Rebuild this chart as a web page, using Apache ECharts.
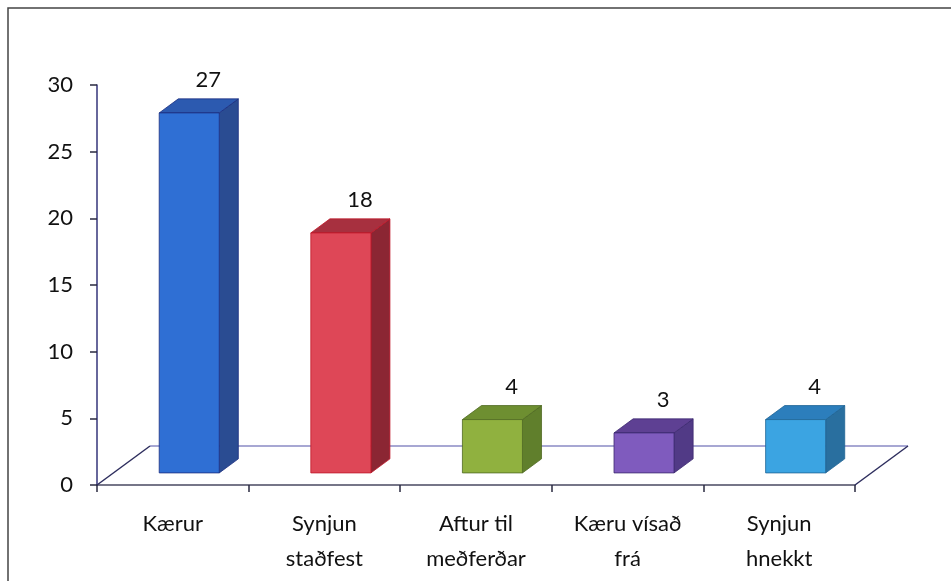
<!DOCTYPE html>
<html>
<head>
<meta charset="utf-8">
<script src="https://cdn.jsdelivr.net/npm/echarts@6/dist/echarts.min.js"></script>
<style>
  html, body { margin: 0; padding: 0; background: #fff; }
  #main { width: 951px; height: 581px; }
</style>
</head>
<body>
<div id="main"></div>
<script>
var chart = echarts.init(document.getElementById('main'))

var categories = ['Kærur', 'Synjun\nstaðfest', 'Aftur til\nmeðferðar', 'Kæru vísað\nfrá', 'Synjun\nhnekkt']
var values = [27, 18, 4, 3, 4]
var yTicks = [0, 30, 5] // min, max, interval

// front / side / top colours per bar
var frontColors = ['#2f6fd4', '#de4757', '#90b13f', '#7f5bbe', '#3ba4e2']
var sideColors = ['#2a4c92', '#8b2633', '#607f2c', '#513a86', '#296f9f']
var topColors = ['#2c5ab0', '#a7303f', '#6e8f31', '#5e4093', '#2c7ebc']
var edgeColors = ['#1c2e80', '#c0182a', '#4f6a22', '#3c2a70', '#1f6496']

// fake depth of the floor (screen px)
var DX = 53, DY = -39
var D1 = 0.31, D2 = 0.67

function renderFloor(params, api) {
    var cs = params.coordSys
    var l = cs.x, r = cs.x + cs.width, b = cs.y + cs.height
    return {
        type: 'group',
        children: [
            { type: 'line', shape: { x1: l + DX, y1: b + DY, x2: r + DX, y2: b + DY },
              style: { stroke: '#8a8ac4', lineWidth: 1.5 } },
            { type: 'line', shape: { x1: l, y1: b, x2: l + DX, y2: b + DY },
              style: { stroke: '#2e2e5e', lineWidth: 1.5 } },
            { type: 'line', shape: { x1: r, y1: b, x2: r + DX, y2: b + DY },
              style: { stroke: '#2e2e5e', lineWidth: 1.5 } }
        ]
    }
}

function renderBar(params, api) {
    var i = api.value(0)
    var v = api.value(1)
    var base = api.coord([i, 0])
    var top = api.coord([i, v])
    var bw = api.size([1, 0])[0]
    var h = bw * 0.198
    var cx = base[0]
    function P(xo, y, d) { return [cx + xo + d * DX, y + d * DY] }
    var yb = base[1], yt = top[1]
    var lab = P(0, yt, D2)
    return {
        type: 'group',
        children: [
            { type: 'polygon', shape: { points: [P(h, yb, D1), P(h, yb, D2), P(h, yt, D2), P(h, yt, D1)] },
              style: { fill: sideColors[i], stroke: edgeColors[i], lineWidth: 0.8 } },
            { type: 'polygon', shape: { points: [P(-h, yt, D1), P(h, yt, D1), P(h, yt, D2), P(-h, yt, D2)] },
              style: { fill: topColors[i], stroke: edgeColors[i], lineWidth: 0.8 } },
            { type: 'polygon', shape: { points: [P(-h, yb, D1), P(h, yb, D1), P(h, yt, D1), P(-h, yt, D1)] },
              style: { fill: frontColors[i], stroke: edgeColors[i], lineWidth: 0.8 } },
            { type: 'text', x: lab[0], y: lab[1] - 19,
              style: { text: String(v), fill: '#111', font: '22px Lato', align: 'center', verticalAlign: 'middle' } }
        ]
    }
}

var barData = values.map(function (v, i) { return [i, v] })

var option = {
    animation: false,
    backgroundColor: '#fff',
    graphic: [{
        type: 'rect',
        shape: { x: 8, y: 8, width: 960, height: 600 },
        style: { fill: 'none', stroke: '#444', lineWidth: 1.5 },
        z: 0
    }],
    grid: { left: 97, top: 85, right: 96, bottom: 96 },
    xAxis: {
        type: 'category',
        data: categories,
        axisLine: { lineStyle: { color: '#4a4a62', width: 1.5 } },
        axisTick: { show: true, length: 7, lineStyle: { color: '#2a2a40', width: 1.5 } },
        axisLabel: { color: '#111', fontFamily: 'Lato', fontSize: 22, lineHeight: 35, margin: 21 }
    },
    yAxis: {
        type: 'value',
        min: yTicks[0], max: yTicks[1], interval: yTicks[2],
        splitLine: { show: false },
        axisLine: { show: true, lineStyle: { color: '#35357a', width: 1.5 } },
        axisTick: { show: true, length: 7, lineStyle: { color: '#2a2a40', width: 1.5 } },
        axisLabel: { color: '#111', fontFamily: 'Lato', fontSize: 22, margin: 24 }
    },
    series: [{
        type: 'custom',
        renderItem: renderFloor,
        data: [[0, 0]],
        z: 1,
        silent: true
    }, {
        type: 'custom',
        renderItem: renderBar,
        data: barData,
        encode: { x: 0, y: 1 },
        z: 2
    }]
}

chart.setOption(option)
</script>
</body>
</html>
